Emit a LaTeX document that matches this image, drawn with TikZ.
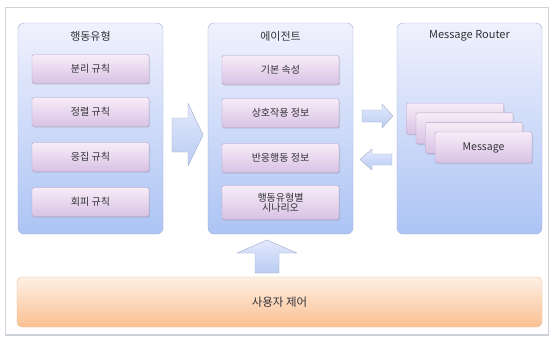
\documentclass[tikz,border=0pt]{standalone}
\usepackage{fontspec}
\setmainfont{Noto Sans CJK KR}
\usetikzlibrary{shadows}

\definecolor{frameline}{RGB}{205,210,218}
\definecolor{paneltop}{RGB}{240,241,253}
\definecolor{panelbot}{RGB}{172,196,244}
\definecolor{panelline}{RGB}{158,175,220}
\definecolor{itemtop}{RGB}{248,236,248}
\definecolor{itembot}{RGB}{216,194,228}
\definecolor{itemline}{RGB}{178,162,200}
\definecolor{arwtop}{RGB}{226,233,252}
\definecolor{arwbot}{RGB}{186,204,242}
\definecolor{arwline}{RGB}{160,170,200}
\definecolor{usertop}{RGB}{254,240,228}
\definecolor{userbot}{RGB}{250,192,146}
\definecolor{userline}{RGB}{236,190,150}
\definecolor{txt}{RGB}{50,50,56}

\tikzstyle{frame} = [draw=frameline, fill=white]
\tikzstyle{panel} = [draw=panelline, rounded corners=6pt, top color=paneltop, bottom color=panelbot, minimum width=145pt, minimum height=211pt, inner sep=0pt]
\tikzstyle{title} = [text=txt, font=\fontsize{11}{12}\selectfont, inner sep=0pt]
\tikzstyle{item} = [draw=itemline, rounded corners=1.5pt, top color=itemtop, bottom color=itembot, minimum width=117pt, minimum height=29pt, inner sep=0pt, text=txt, align=center, font=\fontsize{10}{11}\selectfont, drop shadow={opacity=0.25, shadow xshift=1pt, shadow yshift=-1.2pt}]
\tikzstyle{card} = [item, minimum width=97pt, minimum height=31pt, font=\fontsize{10.5}{12}\selectfont]
\tikzstyle{userbar} = [draw=userline, rounded corners=5pt, top color=usertop, bottom color=userbot, minimum width=525pt, minimum height=50pt, text=txt, font=\fontsize{11.5}{12}\selectfont]
\tikzstyle{blk} = [draw=arwline, top color=arwtop, bottom color=arwbot, line join=round]

\begin{document}
\begin{tikzpicture}[x=1pt,y=-1pt]
\useasboundingbox (0,0) rectangle (550,338);
\draw [frame] (5,7) rectangle (548,335);
\draw [frameline, line width=1.2pt] (5,335) -- (548,335);

\node [panel] (behave) at (90.5,128.5) {};
\node [panel] (agent) at (280.5,128.5) {};
\node [panel] (router) at (469.5,128.5) {};

\node [title] (behavet) at (90.5,36) {행동유형};
\node [title] (agentt) at (280.5,36) {에이전트};
\node [title] (routert) at (469.5,36) {Message Router};

\node [item] (rsep) at (90.5,69) {분리 규칙};
\node [item] (ralign) at (90.5,112) {정렬 규칙};
\node [item] (rcoh) at (90.5,157) {응집 규칙};
\node [item] (ravoid) at (90.5,202) {회피 규칙};

\node [item] (attr) at (280.5,70) {기본 속성};
\node [item] (inter) at (280.5,113) {상호작용 정보};
\node [item] (react) at (280.5,158) {반응행동 정보};
\node [item, minimum height=34pt] (scen) at (280.5,202.5) {행동유형별\\[-1.5pt]시나리오};

\foreach \i in {3,2,1}
  \node [card] (msg\i) at (483.5-9.5*\i,147.5-9.6*\i) {};
\node [card] (msg0) at (483.5,147.5) {Message};

\node [userbar] (user) at (279.5,302) {사용자 제어};

\draw [blk] (172,118) -- (188,118) -- (188,103) -- (203,135) -- (188,166) -- (188,152) -- (172,152) -- cycle;
\draw [blk] (362,110) -- (382,110) -- (382,104) -- (393,116) -- (382,128) -- (382,122) -- (362,122) -- cycle;
\draw [blk] (392,154) -- (372,154) -- (372,149) -- (360,159.5) -- (372,170) -- (372,165) -- (392,165) -- cycle;
\draw [blk] (255,273) -- (255,253) -- (237,253) -- (267,240) -- (297,253) -- (279,253) -- (279,273) -- cycle;

\end{tikzpicture}
\end{document}
